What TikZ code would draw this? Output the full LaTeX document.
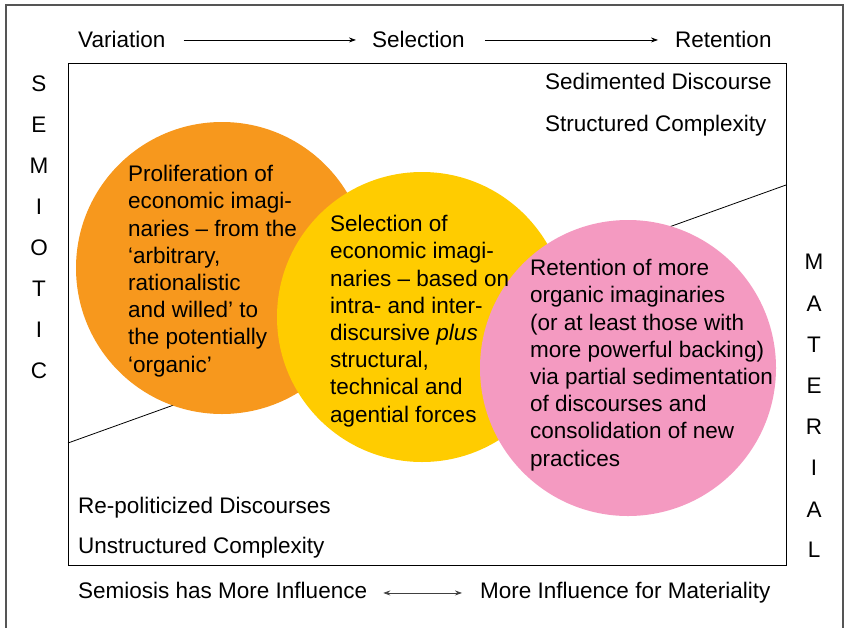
\documentclass[tikz,border=0pt]{standalone}
\usepackage{fontspec}
\setmainfont{Liberation Sans}
\usetikzlibrary{arrows.meta}

\definecolor{orangecirc}{RGB}{247,152,29}
\definecolor{yellowcirc}{RGB}{255,204,0}
\definecolor{pinkcirc}{RGB}{244,154,193}
\definecolor{framegray}{RGB}{85,85,85}

\tikzset{
  plaintext/.style={anchor=base west, inner sep=0pt, font=\fontsize{22.5}{27.2}\selectfont},
  circtext/.style={plaintext, align=left},
  letter/.style={anchor=base, inner sep=0pt, font=\fontsize{22.5}{27.2}\selectfont},
  flow/.style={-{Stealth[length=7pt,width=5pt]}, line width=0.7pt},
  bothways/.style={{Stealth[length=7pt,width=5pt]}-{Stealth[length=7pt,width=5pt]}, line width=0.7pt, draw=black!75}
}

\begin{document}
\begin{tikzpicture}[x=1pt,y=-1pt]
    \useasboundingbox (0,0) rectangle (848,627);

    % outer frame, open at the bottom
    \draw[framegray, line width=1.3pt] (6,640) -- (6,5) -- (843,5) -- (843,640);

    % inner box and the dividing line
    \draw[line width=0.9pt] (68,63) rectangle (786,565);
    \draw[line width=0.8pt] (68,443) -- (786,185);

    % the three circles
    \fill[orangecirc] (222,268) circle[radius=146];
    \fill[yellowcirc] (422,317) circle[radius=145];
    \fill[pinkcirc] (628,368) circle[radius=148];

    % circle texts (base = last line)
    \node[circtext] (proliferation) at (128,372) {Proliferation of\\economic imagi-\\naries – from the\\‘arbitrary,\\rationalistic\\and willed’ to\\the potentially\\‘organic’};
    \node[circtext] (selectiontext) at (330,422) {Selection of\\economic imagi-\\naries – based on\\intra- and inter-\\discursive \textit{plus}\\structural,\\technical and\\agential forces};
    \node[circtext] (retentiontext) at (530,466) {Retention of more\\organic imaginaries\\(or at least those with\\more powerful backing)\\via partial sedimentation\\of discourses and\\consolidation of new\\practices};

    % top row
    \node[plaintext] (variation) at (78,47) {Variation};
    \node[plaintext] (selection) at (372,47) {Selection};
    \node[plaintext] (retention) at (675,47) {Retention};
    \draw[flow] ([xshift=18pt,yshift=-1pt]variation.east) -- ([xshift=-16pt,yshift=-1pt]selection.west);
    \draw[flow] ([xshift=20pt,yshift=-1pt]selection.east) -- ([xshift=-17pt,yshift=-1pt]retention.west);

    % corner labels
    \node[plaintext] (sedimented) at (545,89) {Sedimented Discourse};
    \node[plaintext] (structured) at (545,131) {Structured Complexity};
    \node[plaintext] (repoliticized) at (78,513) {Re-politicized Discourses};
    \node[plaintext] (unstructured) at (78,553) {Unstructured Complexity};

    % bottom row
    \node[plaintext] (semiosis) at (78,598) {Semiosis has More Influence};
    \node[plaintext] (materiality) at (480,598) {More Influence for Materiality};
    \draw[bothways] ([xshift=16pt,yshift=-3pt]semiosis.east) -- ([xshift=-18pt,yshift=-3pt]semiosis.east -| materiality.west);

    % side words
    \foreach \ch/\yy [count=\n] in {S/91,E/132,M/173,I/214,O/255,T/296,I/337,C/378}
        \node[letter] (semiotic\n) at (39,\yy) {\ch};
    \foreach \ch/\yy [count=\n] in {M/269,A/311,T/352,E/393,R/434,I/475,A/517,L/557}
        \node[letter] (material\n) at (814,\yy) {\ch};
\end{tikzpicture}
\end{document}
